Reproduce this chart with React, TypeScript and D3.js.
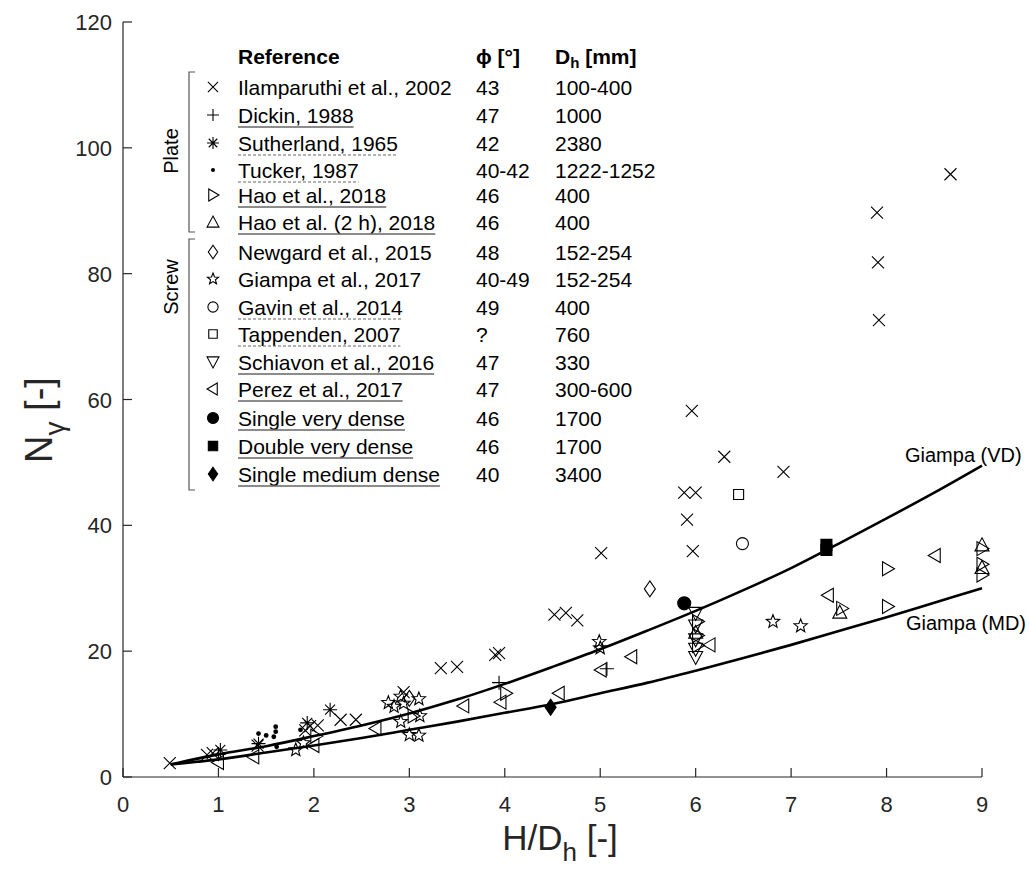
import React, { useEffect, useRef } from 'react';
import * as d3 from 'd3';

// [H/Dh, N_gamma] pairs
const ilamparuthi = [
  [0.49, 2.2], [0.88, 3.5], [0.94, 3.8], [1.41, 5.0], [1.91, 7.4], [1.96, 8.1], [2.04, 8.2],
  [2.28, 9.1], [2.44, 9.1], [2.94, 13.5], [3.33, 17.3], [3.5, 17.5], [3.9, 19.4], [3.94, 19.7],
  [4.52, 25.8], [4.64, 26.1], [4.76, 24.9], [5.01, 35.6], [5.88, 45.2], [6.0, 45.2], [5.91, 40.9],
  [5.97, 35.9], [5.96, 58.2], [6.3, 50.9], [6.92, 48.5], [7.9, 89.7], [7.91, 81.8], [7.92, 72.6],
  [8.67, 95.8],
];
const dickin = [[1.0, 3.6], [3.94, 15.0], [5.07, 17.2]];
const sutherland = [[1.02, 4.3], [1.42, 5.3], [1.93, 8.6], [2.17, 10.7]];
const tucker = [[1.42, 6.9], [1.5, 6.6], [1.58, 6.4], [1.6, 8.0], [1.6, 7.2], [1.61, 4.8], [1.86, 7.5]];
const hao = [
  [2.02, 6.5], [3.04, 9.7], [4.01, 13.3], [6.02, 24.7], [6.02, 22.5], [6.02, 20.9], [7.53, 26.8],
  [8.01, 33.1], [8.01, 27.1], [9.0, 36.3], [9.0, 33.8], [9.0, 32.1],
];
const hao2h = [[6.0, 23.0], [7.51, 26.2], [9.0, 36.9], [9.0, 33.3]];
const newgard = [[5.52, 29.9], [3.0, 12.5]];
const giampa = [
  [1.81, 4.3], [1.89, 5.4], [2.78, 11.8], [2.84, 11.2], [2.91, 12.8], [2.94, 11.7], [3.1, 12.4],
  [2.91, 8.8], [3.0, 6.7], [3.1, 6.6], [3.11, 9.7], [4.99, 21.5], [5.0, 20.5], [6.81, 24.7], [7.1, 24.0],
];
const gavin = [[6.49, 37.1]];
const tappenden = [[6.45, 44.9]];
const schiavon = [[6.0, 26.0], [6.0, 24.0], [6.0, 21.8], [6.0, 20.3], [6.0, 19.0]];
const perez = [
  [1.0, 2.3], [1.37, 3.2], [2.0, 5.0], [2.65, 7.7], [3.57, 11.3], [3.96, 11.9], [4.57, 13.3],
  [5.01, 17.0], [5.33, 19.1], [6.15, 21.0], [7.39, 28.9], [8.51, 35.2],
];
const singleVD = [[5.88, 27.6]];
const doubleVD = [[7.37, 36.1], [7.37, 36.9]];
const singleMD = [[4.48, 11.1]];

const curveX = [0.5, 1, 1.5, 2, 2.5, 3, 3.5, 4, 4.5, 5, 5.5, 6, 6.5, 7, 7.5, 8, 8.5, 9];
const giampaVD = [2.0, 3.6, 4.9, 6.5, 8.2, 10.1, 12.3, 14.8, 17.5, 20.3, 23.3, 26.4, 29.7, 33.2, 37.1, 41.1, 45.2, 49.5];
const giampaMD = [2.0, 2.8, 3.9, 5.0, 6.2, 7.5, 8.8, 10.2, 11.6, 13.3, 15.0, 16.9, 18.9, 21.0, 23.2, 25.4, 27.7, 30.0];

const xTicks = [0, 1, 2, 3, 4, 5, 6, 7, 8, 9];
const yTicks = [0, 20, 40, 60, 80, 100, 120];

const legendNames = [
  'Ilamparuthi et al., 2002', 'Dickin, 1988', 'Sutherland, 1965', 'Tucker, 1987', 'Hao et al., 2018',
  'Hao et al. (2 h), 2018', 'Newgard et al., 2015', 'Giampa et al., 2017', 'Gavin et al., 2014',
  'Tappenden, 2007', 'Schiavon et al., 2016', 'Perez et al., 2017', 'Single very dense',
  'Double very dense', 'Single medium dense',
];
const legendPhi = ['43', '47', '42', '40-42', '46', '46', '48', '40-49', '49', '?', '47', '47', '46', '46', '40'];
const legendDh = ['100-400', '1000', '2380', '1222-1252', '400', '400', '152-254', '152-254', '400', '760', '330', '300-600', '1700', '1700', '3400'];
const legendSym = ['x', '+', '*', '.', 'tr', 'tu', 'd', 'star', 'o', 's', 'td', 'tl', 'fo', 'fs', 'fd'];
const legendLine = ['', 'solid', 'dash', 'dash', 'solid', 'solid', '', '', 'dash', 'dash', 'solid', 'solid', 'solid', 'solid', 'solid'];
const seriesData = [ilamparuthi, dickin, sutherland, tucker, hao, hao2h, newgard, giampa, gavin, tappenden, schiavon, perez, singleVD, doubleVD, singleMD];

const starPath = (ro: number, ri: number) => {
  const pts: string[] = [];
  for (let i = 0; i < 10; i++) {
    const r = i % 2 === 0 ? ro : ri;
    const a = -Math.PI / 2 + (i * Math.PI) / 5;
    pts.push(`${(r * Math.cos(a)).toFixed(2)},${(r * Math.sin(a)).toFixed(2)}`);
  }
  return 'M' + pts.join('L') + 'Z';
};

const symPath: Record<string, string> = {
  x: 'M-6,-6L6,6M-6,6L6,-6',
  '+': 'M-7,0L7,0M0,-7L0,7',
  '*': 'M-7,0L7,0M0,-7L0,7M-5,-5L5,5M-5,5L5,-5',
  tr: 'M-5,-7L7,0L-5,7Z',
  tl: 'M5,-7L-7,0L5,7Z',
  tu: 'M0,-7L7,6L-7,6Z',
  td: 'M0,7L7,-6L-7,-6Z',
  d: 'M0,-8L5.5,0L0,8L-5.5,0Z',
  fd: 'M0,-8L5.5,0L0,8L-5.5,0Z',
  star: starPath(7, 3),
  s: 'M-5,-5L5,-5L5,5L-5,5Z',
  fs: 'M-5.5,-5.5L5.5,-5.5L5.5,5.5L-5.5,5.5Z',
};

const drawSym = (g: any, sym: string, cx: number, cy: number, k: number) => {
  const t = `translate(${cx},${cy}) scale(${k})`;
  if (sym === '.' || sym === 'o' || sym === 'fo') {
    const r = sym === '.' ? 2.4 : sym === 'o' ? 6 : 6.5;
    g.append('circle').attr('transform', t).attr('r', r)
      .attr('fill', sym === 'o' ? 'none' : '#000')
      .attr('stroke', sym === '.' ? 'none' : '#000').attr('stroke-width', 1.1 / k);
    return;
  }
  const filled = sym[0] === 'f';
  g.append('path').attr('transform', t).attr('d', symPath[sym])
    .attr('fill', filled ? '#000' : 'none').attr('stroke', '#000')
    .attr('stroke-width', 1.1 / k).attr('stroke-linejoin', 'miter');
};

const App = () => {
  const ref = useRef<SVGSVGElement>(null);

  useEffect(() => {
    const svg = d3.select(ref.current);
    svg.selectAll('*').remove();
    const font = "'Liberation Sans', Arial, sans-serif";
    const axisCol = '#262626';
    const x = d3.scaleLinear().domain([0, 9]).range([123, 982]);
    const y = d3.scaleLinear().domain([0, 120]).range([777, 22]);

    // axes (MATLAB style, inward ticks, no box)
    const ax = svg.append('g').attr('stroke', axisCol).attr('stroke-width', 1.2);
    ax.append('line').attr('x1', x(0)).attr('x2', x(0)).attr('y1', y(120)).attr('y2', y(0));
    ax.append('line').attr('x1', x(0)).attr('x2', x(9)).attr('y1', y(0)).attr('y2', y(0));
    xTicks.forEach(t => {
      ax.append('line').attr('x1', x(t)).attr('x2', x(t)).attr('y1', y(0)).attr('y2', y(0) - 9);
      svg.append('text').attr('x', x(t)).attr('y', 812).attr('text-anchor', 'middle')
        .attr('font-family', font).attr('font-size', 22).attr('fill', axisCol).text(t);
    });
    yTicks.forEach(t => {
      ax.append('line').attr('x1', x(0)).attr('x2', x(0) + 9).attr('y1', y(t)).attr('y2', y(t));
      svg.append('text').attr('x', 112).attr('y', y(t) + 8).attr('text-anchor', 'end')
        .attr('font-family', font).attr('font-size', 22).attr('fill', axisCol).text(t);
    });

    // axis titles
    const xt = svg.append('text').attr('x', 560).attr('y', 850).attr('text-anchor', 'middle')
      .attr('font-family', font).attr('font-size', 35).attr('fill', axisCol);
    xt.append('tspan').text('H/D');
    xt.append('tspan').attr('font-size', 26).attr('dy', 11).text('h');
    xt.append('tspan').attr('dy', -11).text(' [-]');
    const yt = svg.append('text').attr('transform', 'translate(52,420) rotate(-90)')
      .attr('text-anchor', 'middle').attr('font-family', font).attr('font-size', 38).attr('fill', axisCol);
    yt.append('tspan').text('N');
    yt.append('tspan').attr('font-size', 28).attr('dy', 12).text('γ');
    yt.append('tspan').attr('dy', -12).text(' [-]');

    // Giampa curves
    const line = d3.line<number>().x((_, i) => x(curveX[i])).y(d => y(d)).curve(d3.curveCatmullRom);
    [giampaVD, giampaMD].forEach(vals => {
      svg.append('path').attr('d', line(vals)).attr('fill', 'none')
        .attr('stroke', '#000').attr('stroke-width', 2.6);
    });
    svg.append('text').attr('x', 905).attr('y', 462).attr('font-family', font).attr('font-size', 20)
      .text('Giampa (VD)');
    svg.append('text').attr('x', 906).attr('y', 630).attr('font-family', font).attr('font-size', 20)
      .text('Giampa (MD)');

    // data markers
    const pg = svg.append('g');
    seriesData.forEach((pts, i) => {
      pts.forEach(p => drawSym(pg, legendSym[i], x(p[0]), y(p[1]), 1));
    });

    // legend table
    const lg = svg.append('g').attr('font-family', font).attr('fill', '#000');
    const rowY = [87, 115, 143, 170, 195, 222, 252, 279, 307, 334, 362, 389, 418, 446, 474];
    lg.append('text').attr('x', 238).attr('y', 64).attr('font-size', 21).attr('font-weight', 'bold').text('Reference');
    lg.append('text').attr('x', 476).attr('y', 64).attr('font-size', 21).attr('font-weight', 'bold').text('ϕ [°]');
    const dh = lg.append('text').attr('x', 555).attr('y', 64).attr('font-size', 21).attr('font-weight', 'bold');
    dh.append('tspan').text('D');
    dh.append('tspan').attr('font-size', 15).attr('dy', 4).text('h');
    dh.append('tspan').attr('dy', -4).text(' [mm]');
    legendNames.forEach((name, i) => {
      const cy = rowY[i];
      drawSym(lg, legendSym[i], 213, cy, 0.85);
      const tx = lg.append('text').attr('x', 238).attr('y', cy + 7.5).attr('font-size', 21).text(name);
      lg.append('text').attr('x', 476).attr('y', cy + 7.5).attr('font-size', 21).text(legendPhi[i]);
      lg.append('text').attr('x', 555).attr('y', cy + 7.5).attr('font-size', 21).text(legendDh[i]);
      if (legendLine[i]) {
        const w = (tx.node() as SVGTextElement).getComputedTextLength();
        lg.append('line').attr('x1', 238).attr('x2', 238 + w)
          .attr('y1', cy + 12).attr('y2', cy + 12)
          .attr('stroke', '#666').attr('stroke-width', legendLine[i] === 'solid' ? 1.6 : 1.2)
          .attr('stroke-dasharray', legendLine[i] === 'dash' ? '3,2' : null);
      }
    });

    // group brackets
    const br = svg.append('g').attr('fill', 'none').attr('stroke', '#555').attr('stroke-width', 1.2);
    br.append('path').attr('d', 'M195,72H189V232H195');
    br.append('path').attr('d', 'M195,239H189V490H195');
    svg.append('text').attr('transform', 'translate(178,151) rotate(-90)').attr('text-anchor', 'middle')
      .attr('font-family', font).attr('font-size', 20).text('Plate');
    svg.append('text').attr('transform', 'translate(178,287) rotate(-90)').attr('text-anchor', 'middle')
      .attr('font-family', font).attr('font-size', 20).text('Screw');
  }, []);

  return (
    <svg
      ref={ref}
      width={1029}
      height={875}
      style={{ position: 'absolute', left: 0, top: 0, background: '#fff' }}
    />
  );
};

export default App;
